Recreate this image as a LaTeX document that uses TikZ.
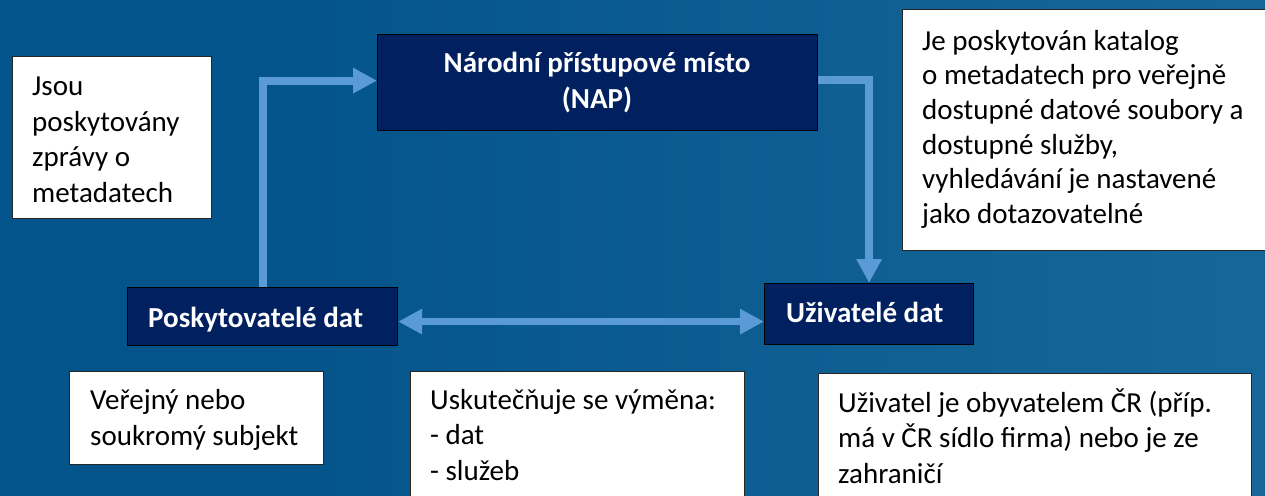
\documentclass[tikz,border=0pt]{standalone}
\usepackage{fontspec}
\setmainfont{Carlito}
\usetikzlibrary{arrows.meta}
\definecolor{bgA}{HTML}{03548A}
\definecolor{bgB}{HTML}{2472A3}
\definecolor{navy}{HTML}{002060}
\definecolor{arr}{HTML}{5B9BD5}
\pgfdeclarehorizontalshading{bgshade}{100bp}{color(0bp)=(bgA); color(35bp)=(bgA); color(100bp)=(bgB)}
\begin{document}
\begin{tikzpicture}[x=1pt,y=-1pt,
  navybox/.style={draw=black, line width=1.2pt, fill=navy, inner sep=0pt, anchor=north west},
  whitebox/.style={draw=black!85, line width=1.2pt, fill=white, inner sep=0pt, anchor=north west},
  btxt/.style={text=white, font=\fontsize{29}{36}\selectfont\bfseries, inner sep=0pt},
  wtxt/.style={text=black, font=\fontsize{29}{35.5}\selectfont, align=left, inner sep=0pt, anchor=base west},
  flow/.style={draw=arr, line width=8pt, -{Triangle[length=24pt,width=24pt]}},
  dflow/.style={draw=arr, line width=7pt, {Triangle[length=24pt,width=24pt]}-{Triangle[length=24pt,width=24pt]}}
]
\useasboundingbox (0,0) rectangle (1265,495);
\clip (0,0) rectangle (1265,495);
\shade[shading=bgshade] (0,0) rectangle (1265,495);

\node[whitebox, minimum width=199pt, minimum height=162pt] (jsoubox) at (12,56) {};
\node[wtxt] (jsou) at (32,202) {Jsou\\poskytovány\\zprávy o\\metadatech};

\node[navybox, minimum width=440pt, minimum height=96pt] (nap) at (377,34) {};
\node[btxt, align=center, anchor=base] (naptxt) at (597,108) {Národní přístupové místo\\(NAP)};

\node[whitebox, minimum width=400pt, minimum height=241pt] (katbox) at (902,9) {};
\node[wtxt, font=\fontsize{29}{34.7}\selectfont] (kat) at (922,223.5) {Je poskytován katalog\\o metadatech pro veřejně\\dostupné datové soubory a\\dostupné služby,\\vyhledávání je nastavené\\jako dotazovatelné};

\node[navybox, minimum width=270pt, minimum height=58pt] (pos) at (127,287) {};
\node[btxt, anchor=base west] (postxt) at (148,327) {Poskytovatelé dat};

\node[navybox, minimum width=209pt, minimum height=61pt] (uziv) at (764,283) {};
\node[btxt, anchor=base west] (uzivtxt) at (786,322) {Uživatelé dat};

\node[whitebox, minimum width=254pt, minimum height=93pt] (verbox) at (69,371) {};
\node[wtxt] (ver) at (90,445) {Veřejný nebo\\soukromý subjekt};

\node[whitebox, minimum width=334pt, minimum height=140pt] (uskbox) at (410,371) {};
\node[wtxt] (usk) at (430,480) {Uskutečňuje se výměna:\\- dat\\- služeb};

\node[whitebox, minimum width=433pt, minimum height=140pt] (uzbox) at (818,373) {};
\node[wtxt] (uz) at (838,483) {Uživatel je obyvatelem ČR (příp.\\má v ČR sídlo firma) nebo je ze\\zahraničí};

\draw[flow] (pos.north) |- ([yshift=2pt]nap.west);
\draw[flow] ([yshift=3pt]nap.east) -| (uziv.north);
\draw[dflow] ([yshift=-5pt]pos.east) -- ([yshift=-5pt]pos.east -| uziv.west);
\end{tikzpicture}
\end{document}
